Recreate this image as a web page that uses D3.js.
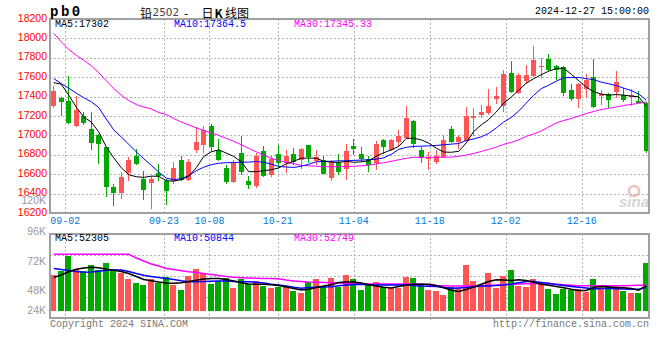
<!DOCTYPE html>
<html>
<head>
<meta charset="utf-8">
<script src="https://cdn.jsdelivr.net/npm/d3@7"></script>
<style>
    body { margin: 0; background: #fff; }
    text { font-family: "Liberation Mono", "DejaVu Sans Mono", monospace; font-size: 10px; }
</style>
</head>
<body>
<svg id="chart" width="660" height="360"></svg>
<script>
var dates = ["08-29","08-30","09-02","09-03","09-04","09-05","09-06","09-09","09-10","09-11",
    "09-12","09-13","09-18","09-19","09-20","09-23","09-24","09-25","09-26","09-27",
    "09-30","10-08","10-09","10-10","10-11","10-14","10-15","10-16","10-17","10-18",
    "10-21","10-22","10-23","10-24","10-25","10-28","10-29","10-30","10-31","11-01",
    "11-04","11-05","11-06","11-07","11-08","11-11","11-12","11-13","11-14","11-15",
    "11-18","11-19","11-20","11-21","11-22","11-25","11-26","11-27","11-28","11-29",
    "12-02","12-03","12-04","12-05","12-06","12-09","12-10","12-11","12-12","12-13",
    "12-16","12-17","12-18","12-19","12-20","12-23","12-24","12-25","12-26","12-27"];

var tickDates = ["09-02","09-23","10-08","10-21","11-04","11-18","12-02","12-16"];
var priceTicks = [18200,18000,17800,17600,17400,17200,17000,16800,16600,16400,16200];
var volTicks = [96000,72000,48000,24000];
var volTickLabels = ["96K","72K","48K","24K"];

var openPrices = [17300,17390,17355,17095,17200,17065,17000,16880,16470,16405,
    16615,16790,16555,16510,16610,16530,16525,16750,16540,16845,
    16905,17100,16850,16665,16515,16815,16525,16480,16835,16590,
    16810,16715,16810,16745,16905,16740,16750,16560,16720,16650,
    16890,16810,16760,16715,16955,16845,16935,16970,17150,16850,
    16760,16730,16780,17065,16930,16945,17180,17215,17235,17375,
    17300,17640,17435,17560,17610,17705,17785,17715,17710,17465,
    17375,17475,17600,17410,17430,17450,17420,17400,17355,17335];

var highPrices = [17510,17400,17610,17410,17240,17245,17010,16885,16495,16625,
    16780,16860,16635,16580,16710,16555,16730,16785,16760,17090,
    17095,17115,16960,16690,16750,16990,16585,16820,16895,16790,
    16900,16850,16870,16870,16905,16845,16785,16750,16810,16910,
    16960,16880,16790,16945,16960,16960,17060,17300,17155,16885,
    16825,16845,17005,17095,17005,17295,17280,17315,17475,17500,
    17670,17765,17640,17730,17920,17800,17840,17725,17720,17530,
    17540,17630,17790,17470,17435,17660,17490,17475,17455,17340];

var lowPrices = [17280,17195,17120,17090,17105,16850,16705,16365,16270,16345,
    16525,16700,16330,16245,16535,16280,16500,16525,16525,16815,
    16815,16840,16735,16500,16510,16590,16445,16460,16570,16575,
    16665,16610,16690,16650,16720,16700,16600,16525,16595,16545,
    16795,16725,16620,16645,16810,16835,16880,16960,16870,16715,
    16645,16710,16775,16920,16860,16940,16990,17180,17210,17320,
    17240,17435,17425,17535,17600,17590,17665,17570,17410,17350,
    17280,17390,17280,17315,17280,17385,17345,17305,17330,16820];

var closePrices = [17460,17345,17130,17265,17125,16925,16915,16465,16405,16575,
    16750,16710,16435,16550,16585,16425,16660,16545,16725,16935,
    17055,16880,16745,16515,16730,16620,16490,16790,16580,16755,
    16720,16790,16730,16855,16775,16780,16605,16730,16620,16840,
    16855,16755,16695,16910,16885,16955,16995,17175,16910,16770,
    16775,16790,16955,16930,16980,17200,17195,17245,17305,17410,
    17635,17450,17620,17620,17775,17720,17675,17670,17435,17380,
    17530,17570,17295,17430,17360,17550,17365,17415,17335,16835];

var priceMa5 = [17544,17528,17415,17292,17190,17138,17036,16882,16769,16667,
    16595,16574,16567,16580,16578,16533,16528,16544,16580,16667,
    16783,16831,16851,16818,16783,16728,16626,16626,16636,16646,
    16664,16708,16733,16766,16766,16766,16733,16725,16721,16733,
    16723,16728,16738,16785,16821,16851,16887,16969,16971,16954,
    16920,16869,16828,16826,16836,16923,17041,17108,17164,17241,
    17333,17395,17467,17538,17585,17626,17662,17689,17692,17631,
    17564,17497,17449,17426,17415,17421,17415,17405,17398,17302];

var priceMa10 = [17585,17533,17487,17436,17388,17347,17287,17169,17056,16985,
    16908,16831,16759,16692,16621,16559,16544,16554,16585,16636,
    16672,16698,16713,16718,16721,16723,16725,16731,16723,16703,
    16680,16674,16670,16682,16703,16728,16733,16733,16738,16738,
    16742,16746,16749,16754,16769,16805,16856,16877,16887,16889,
    16892,16897,16903,16910,16916,16947,16964,16985,17021,17077,
    17138,17185,17251,17333,17415,17482,17518,17559,17595,17597,
    17597,17585,17574,17549,17533,17513,17487,17462,17426,17365];

var priceMa30 = [18051,17964,17887,17826,17774,17718,17646,17564,17482,17415,
    17359,17318,17292,17272,17236,17215,17174,17138,17108,17077,
    17051,17026,17000,16969,16939,16903,16867,16831,16795,16764,
    16742,16721,16708,16692,16687,16682,16677,16677,16677,16679,
    16682,16687,16692,16708,16718,16733,16749,16764,16774,16774,
    16774,16774,16774,16776,16785,16797,16815,16834,16856,16879,
    16908,16928,16954,16990,17015,17046,17087,17128,17154,17174,
    17200,17226,17246,17267,17279,17294,17308,17320,17330,17345];

var volumes = [61000,64200,76600,65800,64200,69100,65000,70900,65600,62800,
    57700,54700,52900,57700,54700,59100,52900,48800,60400,65800,
    62800,53700,56100,58300,50700,57700,53400,56100,52300,50700,
    51500,51500,48000,46600,55500,57700,51500,58800,51500,61000,
    57700,48800,52900,55500,51500,50700,50700,59600,58800,52900,
    48800,48000,44800,51500,50700,69100,56100,52100,62800,50700,
    60200,65000,52300,51500,57700,55100,49600,45600,49600,48800,
    49600,47400,57700,52900,52100,52300,48000,46600,46100,70900];

var volMa5 = [58950,60970,63570,65590,66650,67220,66810,65680,64780,63810,
    62190,59760,57320,56350,55300,54570,54240,54650,55620,56760,
    57730,58220,58050,57240,56110,54650,53680,53430,53430,53030,
    52380,51240,50110,48810,49460,50840,52050,53110,54810,55380,
    55300,54490,53110,51970,51000,50430,51730,52870,53430,53430,
    53430,52460,50590,48650,47680,49220,51240,53510,55700,57160,
    57000,56430,57160,56590,55140,53510,52620,51570,50590,49460,
    48490,48410,50840,51890,51320,50680,50680,49950,48650,52305];

var volMa10 = [66160,65430,64620,63810,63240,63410,63970,64780,65030,65030,
    63810,62190,60730,59760,58950,58050,57320,56270,55540,55540,
    55620,55950,56110,56110,55780,55540,55460,55140,54490,53510,
    52870,52050,51080,50270,50840,51080,51240,51490,52220,52870,
    53270,53510,52950,52870,52870,52870,52870,52870,52460,52050,
    51810,51570,50840,50190,50430,50760,51410,52050,52050,52380,
    52870,53680,54650,55700,55620,54970,54240,53350,52460,51730,
    51080,50350,49700,49950,50030,49780,49620,49460,49380,50844];

var volMa30 = [77760,77760,77760,77760,77760,77760,77760,77760,77760,77760,
    77760,74760,72320,69890,68270,66240,65430,64460,63570,63000,
    62190,61380,60570,59760,59110,58780,58540,58300,58140,58060,
    57890,56920,56110,55700,55300,55140,54890,54730,54490,54320,
    54160,53920,53680,53680,53680,53680,53680,53680,53680,53680,
    52870,52460,52220,52050,52050,52050,52220,52460,52700,52870,
    53110,53430,53680,53920,54160,54080,53680,53430,53030,52620,
    52300,52300,52300,52300,52300,52300,52350,52450,52600,52749];

var upColor = "#ff5555",
    downColor = "#00a800";

var plotLeft = 50,
    plotRight = 649,
    priceTop = 19,
    priceBottom = 213,
    volTop = 234,
    volBottom = 318,
    volFloor = 311;

var svg = d3.select("#chart");

var x = d3.scaleBand().domain(dates).range([50, 650]);
// the date grid of the original uses a slightly wider step than the bars
var xTick = d3.scalePoint().domain(dates).range([50, 650]);
var y = d3.scaleLinear().domain([16200, 18200]).range([priceBottom, priceTop]);
var vy = d3.scaleLinear().domain([48000, 72000]).range([291, 261.4]);

var idx = d3.range(dates.length);

function cx(i) {
    return x(dates[i]) + x.bandwidth() / 2;
}

function barColor(i) {
    return closePrices[i] >= openPrices[i] ? upColor : downColor;
}

// GRID
var grid = svg.append("g")
    .attr("stroke", "#b4b4b4")
    .attr("stroke-width", 1)
    .attr("stroke-dasharray", "2,2")
    .attr("shape-rendering", "crispEdges");

grid.selectAll("line.hp")
    .data(priceTicks.slice(1, -1))
    .enter()
    .append("line")
    .attr("x1", plotLeft)
    .attr("x2", plotRight)
    .attr("y1", (d) => Math.round(y(d)) + 0.5)
    .attr("y2", (d) => Math.round(y(d)) + 0.5);

grid.selectAll("line.vp")
    .data(tickDates)
    .enter()
    .append("line")
    .attr("x1", (d) => Math.round(xTick(d)) + 0.5)
    .attr("x2", (d) => Math.round(xTick(d)) + 0.5)
    .attr("y1", priceTop)
    .attr("y2", priceBottom);

grid.selectAll("line.hv")
    .data([1, 2, 3])
    .enter()
    .append("line")
    .attr("x1", plotLeft)
    .attr("x2", plotRight)
    .attr("y1", (k) => Math.round(volTop + (k * (volBottom - volTop)) / 4) + 0.5)
    .attr("y2", (k) => Math.round(volTop + (k * (volBottom - volTop)) / 4) + 0.5);

grid.selectAll("line.vv")
    .data(tickDates)
    .enter()
    .append("line")
    .attr("x1", (d) => Math.round(xTick(d)) + 0.5)
    .attr("x2", (d) => Math.round(xTick(d)) + 0.5)
    .attr("y1", volTop)
    .attr("y2", volBottom + 3);

// CANDLES
var candles = svg.append("g").attr("shape-rendering", "crispEdges");

candles.selectAll("line")
    .data(idx)
    .enter()
    .append("line")
    .attr("x1", (i) => Math.floor(cx(i)) + 0.5)
    .attr("x2", (i) => Math.floor(cx(i)) + 0.5)
    .attr("y1", (i) => y(highPrices[i]))
    .attr("y2", (i) => y(lowPrices[i]))
    .attr("stroke", barColor);

candles.selectAll("rect")
    .data(idx)
    .enter()
    .append("rect")
    .attr("x", (i) => Math.floor(cx(i)) - 2)
    .attr("width", 5)
    .attr("y", (i) => y(Math.max(openPrices[i], closePrices[i])))
    .attr("height", (i) => Math.max(1, Math.abs(y(openPrices[i]) - y(closePrices[i]))))
    .attr("fill", barColor);

// VOLUME BARS
svg.append("g")
    .attr("shape-rendering", "crispEdges")
    .selectAll("rect")
    .data(idx)
    .enter()
    .append("rect")
    .attr("x", (i) => Math.floor(cx(i)) - 3)
    .attr("width", 6)
    .attr("y", (i) => Math.round(vy(volumes[i])))
    .attr("height", (i) => volFloor - Math.round(vy(volumes[i])))
    .attr("fill", barColor);

// MOVING AVERAGES
var maColors = ["#000000", "#0000ff", "#ff00ff"];

function drawLine(values, scale, color, w) {
    var line = d3.line()
        .x((d, i) => cx(i))
        .y((d) => scale(d));

    svg.append("path")
        .datum(values)
        .attr("d", line)
        .attr("fill", "none")
        .attr("stroke", color)
        .attr("stroke-width", w);
}

[priceMa30, priceMa10, priceMa5].forEach(function (s, k) {
    drawLine(s, y, maColors[2 - k], 1);
});

[volMa30, volMa10, volMa5].forEach(function (s, k) {
    drawLine(s, vy, maColors[2 - k], 1.5);
});

// BORDERS
svg.append("rect")
    .attr("x", plotLeft)
    .attr("y", priceTop)
    .attr("width", plotRight - plotLeft)
    .attr("height", priceBottom - priceTop)
    .attr("fill", "none")
    .attr("stroke", "#a0a0a0")
    .attr("stroke-width", 2);

svg.append("rect")
    .attr("x", plotLeft)
    .attr("y", volTop)
    .attr("width", plotRight - plotLeft)
    .attr("height", volBottom - volTop)
    .attr("fill", "none")
    .attr("stroke", "#a0a0a0")
    .attr("stroke-width", 2);

// AXIS LABELS
svg.append("g")
    .selectAll("text")
    .data(priceTicks)
    .enter()
    .append("text")
    .attr("x", 47)
    .attr("y", (d) => y(d) - 1.5)
    .attr("text-anchor", "end")
    .attr("dominant-baseline", "central")
    .style("font-family", "'Liberation Sans', Arial, sans-serif")
    .style("font-size", "10.5px")
    .attr("fill", "#ff0000")
    .text((d) => d);

svg.append("text")
    .attr("x", 46)
    .attr("y", 200)
    .attr("text-anchor", "end")
    .attr("dominant-baseline", "central")
    .style("font-family", "'Liberation Sans', Arial, sans-serif")
    .style("font-size", "10.5px")
    .attr("fill", "#999")
    .text("120K");

svg.append("g")
    .selectAll("text")
    .data(volTicks)
    .enter()
    .append("text")
    .attr("x", 46)
    .attr("y", (d) => Math.min(vy(d), volFloor) - 0.7)
    .attr("text-anchor", "end")
    .attr("dominant-baseline", "central")
    .style("font-family", "'Liberation Sans', Arial, sans-serif")
    .style("font-size", "10.5px")
    .attr("fill", "#999")
    .text((d, i) => volTickLabels[i]);

svg.append("g")
    .selectAll("text")
    .data(tickDates)
    .enter()
    .append("text")
    .attr("x", (d) => xTick(d))
    .attr("y", 221.5)
    .attr("text-anchor", "middle")
    .attr("dominant-baseline", "central")
    .attr("fill", "#0a78d6")
    .text((d) => d);

// LEGENDS
var legendX = [55, 174, 294];
var priceLegend = ["MA5:17302", "MA10:17364.5", "MA30:17345.33"];
var volLegend = ["MA5:52305", "MA10:50844", "MA30:52749"];

legendX.forEach(function (lx, k) {
    svg.append("text")
        .attr("x", lx)
        .attr("y", 24)
        .attr("dominant-baseline", "central")
        .attr("fill", maColors[k])
        .text(priceLegend[k]);

    svg.append("text")
        .attr("x", lx)
        .attr("y", 238.5)
        .attr("dominant-baseline", "central")
        .attr("fill", maColors[k])
        .text(volLegend[k]);
});

// TITLE
svg.append("text")
    .attr("x", 50)
    .attr("y", 12)
    .attr("dominant-baseline", "central")
    .style("font-size", "14px")
    .style("font-weight", "bold")
    .style("letter-spacing", "2.5px")
    .text("pb0");

var title = svg.append("text")
    .attr("y", 11.5)
    .attr("dominant-baseline", "central")
    .style("font-family", "'Noto Sans CJK SC', sans-serif")
    .style("font-size", "12px")
    .attr("fill", "#000");

title.append("tspan").attr("x", 140).text("铅");
title.append("tspan").attr("x", 152.5).attr("fill", "#444")
    .style("font-family", "'DejaVu Sans', sans-serif").style("font-size", "10.5px").text("2502");
title.append("tspan").attr("x", 184).text("-");
title.append("tspan").attr("x", 201.5).text("日");
title.append("tspan").attr("x", 214.5).style("font-weight", "bold").text("K");
title.append("tspan").attr("x", 225).text("线图");

svg.append("text")
    .attr("x", 649)
    .attr("y", 11.5)
    .attr("text-anchor", "end")
    .attr("dominant-baseline", "central")
    .text("2024-12-27 15:00:00");

// FOOTER
svg.append("text")
    .attr("x", 50)
    .attr("y", 324)
    .attr("dominant-baseline", "central")
    .attr("fill", "#777")
    .text("Copyright 2024 SINA.COM");

svg.append("text")
    .attr("x", 649)
    .attr("y", 324)
    .attr("text-anchor", "end")
    .attr("dominant-baseline", "central")
    .attr("fill", "#777")
    .text("http://finance.sina.com.cn");

// WATERMARK
var logo = svg.append("g").attr("opacity", 0.6);

logo.append("circle")
    .attr("cx", 634)
    .attr("cy", 191)
    .attr("r", 5)
    .attr("fill", "none")
    .attr("stroke", "#e69a9a")
    .attr("stroke-width", 2.5);

logo.append("text")
    .attr("x", 619)
    .attr("y", 207)
    .style("font-family", "'Liberation Sans', Arial, sans-serif")
    .style("font-size", "15px")
    .style("font-style", "italic")
    .style("font-weight", "bold")
    .attr("fill", "#b8b8b8")
    .text("sina");
</script>
</body>
</html>
